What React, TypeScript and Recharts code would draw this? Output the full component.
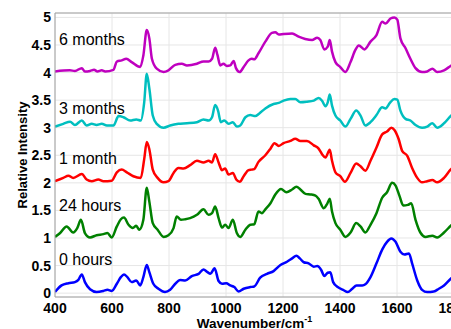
import React from 'react';
import { LineChart, Line, XAxis, YAxis, CartesianGrid, ReferenceDot } from 'recharts';

type Point = [number, number];

const xTicks = [400, 600, 800, 1000, 1200, 1400, 1600, 1800];
const yTicks = [0, 0.5, 1, 1.5, 2, 2.5, 3, 3.5, 4, 4.5, 5];

// spectra, each stacked on its own integer offset: [wavenumber, intensity]
const zeroHours: Point[] = [
  [400, 0.02], [423, 0.14], [447, 0.18], [470, 0.2], [482, 0.24], [494, 0.34], [505, 0.2], [523, 0.07],
  [546, 0.02], [570, 0.04], [584, 0.06], [599, 0.04], [617, 0.17], [631, 0.29], [642, 0.34], [654, 0.29],
  [669, 0.2], [685, 0.23], [699, 0.14], [710, 0.29], [722, 0.51], [731, 0.38], [745, 0.17], [763, 0.08],
  [786, 0.02], [804, 0.06], [822, 0.17], [839, 0.24], [857, 0.23], [880, 0.31], [904, 0.35], [921, 0.43],
  [935, 0.38], [945, 0.35], [960, 0.45], [974, 0.22], [986, 0.17], [1001, 0.18], [1015, 0.14], [1029, 0.11],
  [1044, 0.03], [1062, 0.08], [1085, 0.11], [1099, 0.12], [1120, 0.28], [1144, 0.35], [1167, 0.4], [1191, 0.51],
  [1214, 0.57], [1232, 0.63], [1247, 0.68], [1259, 0.63], [1273, 0.56], [1290, 0.54], [1308, 0.48], [1320, 0.49],
  [1334, 0.42], [1345, 0.31], [1357, 0.37], [1366, 0.38], [1376, 0.2], [1392, 0.11], [1411, 0.06], [1427, 0.02],
  [1443, 0.08], [1458, 0.14], [1478, 0.14], [1489, 0.16], [1507, 0.29], [1528, 0.54], [1548, 0.79], [1565, 0.93],
  [1580, 0.99], [1595, 0.93], [1612, 0.75], [1626, 0.7], [1642, 0.72], [1653, 0.54], [1671, 0.23], [1688, 0.06],
  [1706, 0.02], [1729, 0.03], [1747, 0.08], [1765, 0.14], [1788, 0.26], [1800, 0.32],
];

const twentyFourHours: Point[] = [
  [400, 1.02], [418, 1.09], [441, 1.21], [464, 1.1], [478, 1.18], [491, 1.33], [505, 1.09], [523, 1.01],
  [546, 1.05], [570, 1.07], [584, 1.09], [599, 1.01], [617, 1.21], [631, 1.34], [642, 1.37], [658, 1.24],
  [673, 1.18], [685, 1.22], [696, 1.15], [710, 1.33], [722, 1.91], [731, 1.66], [743, 1.27], [760, 1.15],
  [781, 1.02], [798, 1.05], [816, 1.18], [827, 1.39], [842, 1.33], [857, 1.34], [874, 1.36], [898, 1.42],
  [921, 1.52], [939, 1.42], [951, 1.45], [962, 1.57], [974, 1.36], [986, 1.19], [997, 1.24], [1009, 1.18],
  [1024, 1.33], [1038, 1.09], [1050, 1.02], [1068, 1.15], [1085, 1.24], [1099, 1.25], [1114, 1.48], [1126, 1.45],
  [1138, 1.52], [1156, 1.63], [1173, 1.79], [1193, 1.89], [1212, 1.83], [1232, 1.88], [1247, 1.93], [1261, 1.88],
  [1279, 1.8], [1296, 1.79], [1314, 1.77], [1325, 1.71], [1343, 1.54], [1355, 1.62], [1364, 1.71], [1372, 1.48],
  [1384, 1.27], [1401, 1.15], [1419, 1.02], [1437, 1.1], [1457, 1.27], [1472, 1.21], [1489, 1.1], [1507, 1.24],
  [1528, 1.45], [1548, 1.73], [1565, 1.83], [1583, 2.0], [1595, 1.95], [1609, 1.76], [1622, 1.59], [1638, 1.6],
  [1650, 1.63], [1665, 1.33], [1683, 1.09], [1700, 1.02], [1724, 1.04], [1741, 1.01], [1765, 1.1], [1788, 1.22],
  [1800, 1.28],
];

const oneMonth: Point[] = [
  [400, 2.03], [429, 2.09], [447, 2.13], [464, 2.09], [494, 2.16], [511, 2.06], [529, 2.03], [552, 2.06],
  [570, 2.03], [599, 2.04], [617, 2.19], [634, 2.24], [652, 2.19], [675, 2.12], [701, 2.09], [713, 2.43],
  [722, 2.74], [731, 2.61], [743, 2.24], [760, 2.09], [781, 2.01], [798, 2.03], [816, 2.18], [833, 2.27],
  [851, 2.26], [874, 2.32], [898, 2.4], [921, 2.37], [939, 2.4], [951, 2.37], [962, 2.52], [974, 2.37],
  [986, 2.23], [997, 2.26], [1009, 2.15], [1024, 2.18], [1036, 2.06], [1048, 2.02], [1062, 2.12], [1079, 2.23],
  [1090, 2.24], [1099, 2.25], [1114, 2.38], [1138, 2.5], [1156, 2.62], [1170, 2.72], [1185, 2.67], [1202, 2.72],
  [1226, 2.76], [1243, 2.8], [1261, 2.76], [1284, 2.76], [1308, 2.68], [1325, 2.62], [1337, 2.52], [1349, 2.46],
  [1364, 2.6], [1372, 2.4], [1384, 2.19], [1401, 2.12], [1417, 2.02], [1437, 2.18], [1457, 2.35], [1472, 2.3],
  [1489, 2.22], [1507, 2.4], [1528, 2.64], [1548, 2.88], [1565, 2.93], [1580, 3.0], [1591, 2.96], [1606, 2.79],
  [1618, 2.58], [1636, 2.49], [1653, 2.27], [1671, 2.09], [1688, 2.01], [1706, 2.03], [1724, 2.05], [1741, 2.01],
  [1765, 2.09], [1788, 2.24], [1800, 2.3],
];

const threeMonths: Point[] = [
  [400, 3.02], [429, 3.07], [453, 3.11], [470, 3.05], [494, 3.13], [511, 3.04], [529, 3.07], [546, 3.05],
  [564, 3.07], [582, 3.04], [605, 3.04], [623, 3.21], [640, 3.19], [664, 3.13], [685, 3.15], [701, 3.13],
  [713, 3.46], [722, 3.98], [731, 3.71], [743, 3.22], [757, 3.07], [781, 3.0], [804, 3.04], [833, 3.07],
  [863, 3.08], [898, 3.1], [921, 3.15], [939, 3.13], [951, 3.19], [962, 3.41], [972, 3.31], [982, 3.1],
  [994, 3.13], [1009, 3.07], [1024, 3.1], [1038, 3.02], [1050, 3.04], [1068, 3.19], [1085, 3.23], [1103, 3.21],
  [1115, 3.25], [1138, 3.35], [1167, 3.43], [1185, 3.45], [1202, 3.49], [1226, 3.52], [1243, 3.52], [1261, 3.46],
  [1284, 3.47], [1308, 3.49], [1325, 3.54], [1337, 3.49], [1349, 3.39], [1357, 3.46], [1364, 3.6], [1372, 3.4],
  [1384, 3.22], [1401, 3.13], [1419, 3.02], [1437, 3.16], [1457, 3.31], [1472, 3.22], [1489, 3.04], [1507, 3.1],
  [1528, 3.23], [1548, 3.37], [1560, 3.35], [1575, 3.45], [1591, 3.52], [1601, 3.51], [1612, 3.31], [1630, 3.16],
  [1647, 3.13], [1665, 3.05], [1688, 3.0], [1706, 3.02], [1724, 3.08], [1741, 3.0], [1765, 3.08], [1788, 3.21],
  [1800, 3.27],
];

const sixMonths: Point[] = [
  [400, 4.02], [452, 4.04], [470, 4.03], [494, 4.08], [505, 4.02], [523, 4.03], [537, 4.05], [549, 4.02],
  [564, 4.04], [576, 4.02], [605, 4.05], [617, 4.2], [634, 4.22], [650, 4.25], [669, 4.19], [699, 4.1],
  [710, 4.31], [722, 4.77], [731, 4.62], [740, 4.25], [757, 4.07], [781, 4.01], [798, 4.04], [822, 4.14],
  [845, 4.16], [863, 4.13], [898, 4.16], [921, 4.2], [939, 4.2], [951, 4.25], [962, 4.45], [970, 4.32],
  [980, 4.13], [991, 4.16], [1003, 4.12], [1015, 4.13], [1027, 4.21], [1035, 4.08], [1048, 4.01], [1062, 4.1],
  [1079, 4.22], [1090, 4.25], [1099, 4.24], [1114, 4.35], [1138, 4.56], [1161, 4.72], [1173, 4.73], [1185, 4.69],
  [1202, 4.7], [1232, 4.71], [1255, 4.65], [1278, 4.61], [1302, 4.59], [1320, 4.63], [1331, 4.59], [1345, 4.42],
  [1357, 4.47], [1364, 4.59], [1372, 4.38], [1384, 4.19], [1401, 4.1], [1419, 4.01], [1437, 4.19], [1454, 4.41],
  [1466, 4.49], [1486, 4.42], [1507, 4.56], [1528, 4.68], [1548, 4.92], [1560, 4.89], [1577, 4.98], [1591, 5.0],
  [1601, 4.96], [1612, 4.62], [1630, 4.44], [1647, 4.25], [1665, 4.08], [1688, 4.01], [1706, 4.02], [1724, 4.07],
  [1741, 4.01], [1765, 4.04], [1788, 4.12], [1800, 4.16],
];

const series = [
  { name: '0 hours', points: zeroHours, color: '#0000ff', tagY: 0.62 },
  { name: '24 hours', points: twentyFourHours, color: '#008000', tagY: 1.59 },
  { name: '1 month', points: oneMonth, color: '#ff0000', tagY: 2.44 },
  { name: '3 months', points: threeMonths, color: '#00bfbf', tagY: 3.35 },
  { name: '6 months', points: sixMonths, color: '#bf00bf', tagY: 4.61 },
];

const tickStyle = { fill: '#000', fontSize: 14, fontWeight: 'bold' as const };

const XTitle = ({ viewBox }: any) => {
  const { x, y, width } = viewBox;
  return (
    <text x={x + width / 2} y={y + 30.5} textAnchor="middle" fontSize={13.5} fontWeight="bold" fill="#000">
      Wavenumber/cm<tspan dy={-6} fontSize={9}>-1</tspan>
    </text>
  );
};

const YTitle = ({ viewBox }: any) => {
  const { y, height } = viewBox;
  const cx = 27;
  const cy = y + height / 2;
  return (
    <text x={cx} y={cy} transform={`rotate(-90, ${cx}, ${cy})`} textAnchor="middle" fontSize={13} fontWeight="bold" fill="#000">
      Relative Intensity
    </text>
  );
};

export default function App() {
  return (
    <div
      style={{
        position: 'fixed',
        left: 0,
        top: 0,
        width: 451,
        height: 329,
        overflow: 'hidden',
        background: '#fff',
        fontFamily: '"Liberation Sans", Arial, sans-serif',
      }}
    >
      <LineChart width={470} height={329} margin={{ top: 13, right: 16, bottom: 0, left: 0 }}>
        <CartesianGrid stroke="#e6e6e6" />
        <XAxis
          type="number"
          dataKey="x"
          domain={[400, 1800]}
          ticks={xTicks}
          interval={0}
          allowDataOverflow
          height={32}
          stroke="#a0a0a0"
          tickLine={false}
          tickSize={4}
          tick={tickStyle}
          label={<XTitle />}
        />
        <XAxis
          xAxisId="top"
          orientation="top"
          type="number"
          domain={[400, 1800]}
          ticks={xTicks}
          interval={0}
          allowDataOverflow
          height={1}
          mirror
          tickSize={4}
          tick={false}
          stroke="#a0a0a0"
        />
        <YAxis
          type="number"
          domain={[-0.07, 5.08]}
          ticks={yTicks}
          interval={0}
          allowDataOverflow
          width={55}
          stroke="#a0a0a0"
          tickLine={false}
          tickSize={2}
          tickMargin={2}
          tick={tickStyle}
          label={<YTitle />}
        />
        <YAxis
          yAxisId="right"
          orientation="right"
          type="number"
          domain={[-0.07, 5.08]}
          ticks={yTicks}
          interval={0}
          allowDataOverflow
          width={1}
          mirror
          tickSize={4}
          tick={false}
          stroke="#a0a0a0"
        />
        {series.map((s) => (
          <Line
            key={s.name}
            data={s.points.map(([x, y]) => ({ x, y }))}
            dataKey="y"
            name={s.name}
            type="monotone"
            stroke={s.color}
            strokeWidth={2.5}
            dot={false}
            isAnimationActive={false}
          />
        ))}
        {series.map((s) => (
          <ReferenceDot
            key={`tag-${s.name}`}
            x={414}
            y={s.tagY}
            r={0}
            stroke="none"
            fill="none"
            label={{ value: s.name, position: 'right', offset: 0, fontSize: 16, fill: '#000' }}
          />
        ))}
      </LineChart>
    </div>
  );
}
